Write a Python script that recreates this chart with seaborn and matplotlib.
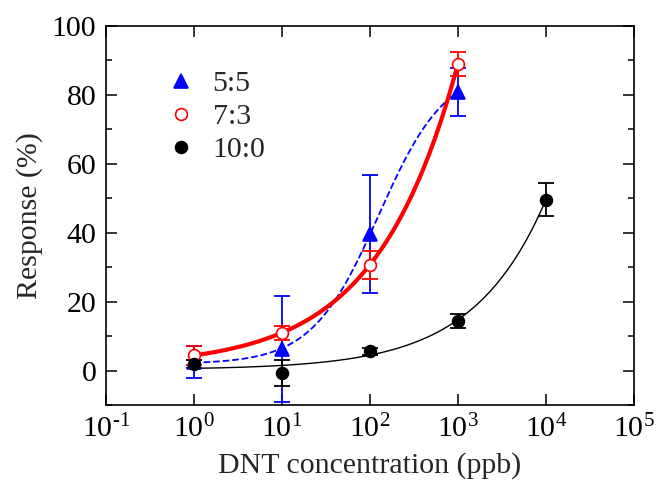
import numpy as np
import pandas as pd
import seaborn as sns
import matplotlib
matplotlib.use("Agg")
import matplotlib.pyplot as plt
from matplotlib.ticker import FixedLocator, FixedFormatter, NullLocator, MultipleLocator

# =====================
# Data
# =====================
conc = [1, 10, 100, 1000, 10000]

resp_55 = [2.4, 6.3, 39.6, 80.8]
err_55 = [4.7, 15.3, 17.0, 7.0]

resp_73 = [4.4, 11.0, 30.7, 89.0]
err_73 = [2.8, 2.0, 4.0, 3.4]

resp_100 = [2.0, -0.7, 5.6, 14.4, 49.6]
err_100 = [1.2, 3.9, 1.0, 2.1, 4.9]

labels = ["5:5", "7:3", "10:0"]
colors = ["blue", "red", "black"]


def fit_hill(x, y):
    # y = y0 + A * x^n / (K^n + x^n), grid over K and n, linear LS for y0, A
    x = np.asarray(x, float)
    y = np.asarray(y, float)
    best = None
    for logk in np.linspace(0, 7, 141):
        k = 10 ** logk
        for n in np.linspace(0.2, 3.0, 141):
            f = x ** n / (k ** n + x ** n)
            M = np.column_stack([np.ones_like(f), f])
            coef, *_ = np.linalg.lstsq(M, y, rcond=None)
            sse = np.sum((M @ coef - y) ** 2)
            if best is None or sse < best[0]:
                best = (sse, coef[0], coef[1], k, n)
    _, y0, a, k, n = best
    return lambda t: y0 + a * t ** n / (k ** n + t ** n)


# =====================
# Plot
# =====================
sns.set_theme(style="ticks")
plt.rcParams["font.family"] = ["Liberation Serif", "DejaVu Serif"]
plt.rcParams["mathtext.fontset"] = "custom"
plt.rcParams["mathtext.rm"] = "Liberation Serif"
plt.rcParams["mathtext.it"] = "Liberation Serif"
plt.rcParams["mathtext.default"] = "regular"

fig = plt.figure(figsize=(6.63, 4.88), dpi=100)
ax = fig.add_axes([0.16, 0.17, 0.796, 0.777])

series = [
    (conc[:4], resp_55, err_55, "^", "blue", "full", "--", 1.3),
    (conc[:4], resp_73, err_73, "o", "red", "none", "-", 3.0),
    (conc, resp_100, err_100, "o", "black", "full", "-", 1.0),
]

for (x, y, e, mk, col, fill, ls, lw), lab in zip(series, labels):
    f = fit_hill(x, y)
    xs = np.logspace(0, np.log10(x[-1]), 200)
    curve = pd.DataFrame({"x": xs, "y": f(xs)})
    sns.lineplot(data=curve, x="x", y="y", ax=ax, color=col, linestyle=ls,
                 linewidth=lw, legend=False, zorder=2,
                 dashes=(4, 3) if ls == "--" else None)
    ax.errorbar(x, y, yerr=e, fmt="none", ecolor=col, elinewidth=1.3,
                capsize=6, capthick=1.3, zorder=3)
    ms = 10 if mk == "^" else 8.5
    ax.plot(x, y, linestyle="none", marker=mk, markersize=ms,
            markerfacecolor=col if fill == "full" else "white",
            markeredgecolor=col, markeredgewidth=1.2, label=lab, zorder=4)

ax.set_xscale("log")
ax.set_xlim(0.1, 1e5)
ax.set_ylim(-10, 100)

decades = [10.0 ** k for k in range(-1, 6)]
ax.xaxis.set_major_locator(FixedLocator(decades))
ax.xaxis.set_major_formatter(FixedFormatter(["$10^{\\text{-}1}$"] + ["$10^{%d}$" % k for k in range(0, 6)]))
ax.xaxis.set_minor_locator(NullLocator())
ax.yaxis.set_major_locator(FixedLocator([0, 20, 40, 60, 80, 100]))
ax.yaxis.set_minor_locator(MultipleLocator(10))

ax.tick_params(which="both", direction="in", top=True, right=True,
               labelsize=21.5, width=1.1, colors="black")
ax.tick_params(which="major", length=8, pad=7)
ax.tick_params(which="minor", length=4)
for sp in ax.spines.values():
    sp.set_linewidth(1.2)
    sp.set_color("black")

ax.set_xlabel("DNT concentration (ppb)", fontsize=21.5, labelpad=6)
ax.set_ylabel("Response (%)", fontsize=21.5, labelpad=6)

ax.legend(loc="upper left", bbox_to_anchor=(0.08, 0.93), frameon=False,
          fontsize=21.5, handlelength=1.0, handletextpad=0.55, labelspacing=0.2,
          borderaxespad=0.2)

fig.savefig("out.png", dpi=100)
